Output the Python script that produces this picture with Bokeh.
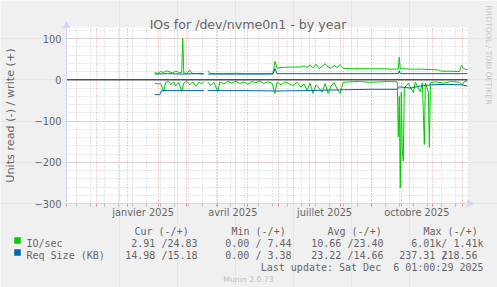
import math
import numpy as np
import pandas as pd
from bokeh.plotting import figure
from bokeh.models import (Range1d, FixedTicker, Grid, Label, Arrow, NormalHead,
                          DatetimeAxis, LinearAxis)
from bokeh.embed import file_html
from bokeh.resources import INLINE

# ---------------- data ----------------
io_w_dates = ["2025-01-28", "2025-01-31", "2025-02-03", "2025-02-06", "2025-02-09", "2025-02-12",
              "2025-02-15", "2025-02-18", "2025-02-21", "2025-02-24", "2025-02-25", "2025-02-26",
              "2025-03-01", "2025-03-04", "2025-03-06", "2025-03-10", "2025-03-15", "2025-03-18",
              "2025-03-19", "2025-03-22", "2025-03-24", "2025-03-30", "2025-04-09", "2025-04-19",
              "2025-04-29", "2025-05-09", "2025-05-19", "2025-05-26", "2025-05-28", "2025-05-30",
              "2025-06-03", "2025-06-13", "2025-06-23", "2025-06-26", "2025-06-29", "2025-07-02",
              "2025-07-05", "2025-07-08", "2025-07-11", "2025-07-14", "2025-07-17", "2025-07-20",
              "2025-07-23", "2025-07-26", "2025-07-29", "2025-08-01", "2025-08-04", "2025-08-12",
              "2025-08-22", "2025-09-01", "2025-09-11", "2025-09-21", "2025-09-28", "2025-09-29",
              "2025-09-30", "2025-10-11", "2025-10-21", "2025-10-31", "2025-11-07", "2025-11-10",
              "2025-11-20", "2025-11-28", "2025-11-30", "2025-12-02", "2025-12-05", "2025-12-06"]
io_w_vals = [17, 16, 20, 18, 22, 19,
             17, 21, 18, 17, 100, 17,
             15, 24, 16, 15, 16, 15,
             float("nan"), 22, 16, 15, 15, 16,
             15, 15, 15, 16, 45, 28,
             30, 31, 31, 34, 30, 36,
             29, 38, 27, 33, 39, 31,
             28, 35, 30, 37, 28, 27,
             27, 27, 27, 26, 26, 55,
             27, 26, 26, 25, 24, 21,
             21, 20, 35, 27, 25, 24.83]

req_w_dates = ["2025-01-28", "2025-02-10", "2025-02-24", "2025-03-10", "2025-03-18", "2025-03-19",
               "2025-03-22", "2025-04-15", "2025-05-10", "2025-05-26", "2025-05-28", "2025-05-30",
               "2025-06-30", "2025-07-31", "2025-08-31", "2025-09-28", "2025-09-29", "2025-09-30",
               "2025-10-31", "2025-11-30", "2025-12-06"]
req_w_vals = [14, 15, 14, 15, 14, float("nan"),
              14, 14, 14, 14, 27, 15,
              15, 15, 15, 15, 22, 15,
              15, 15, 15.18]

io_r_dates = ["2025-01-28", "2025-01-31", "2025-02-03", "2025-02-06", "2025-02-08", "2025-02-11",
              "2025-02-13", "2025-02-16", "2025-02-18", "2025-02-21", "2025-02-24", "2025-02-26",
              "2025-03-01", "2025-03-04", "2025-03-07", "2025-03-10", "2025-03-13", "2025-03-16",
              "2025-03-18", "2025-03-19", "2025-03-22", "2025-03-25", "2025-03-28", "2025-04-01",
              "2025-04-03", "2025-04-07", "2025-04-11", "2025-04-15", "2025-04-19", "2025-04-23",
              "2025-04-27", "2025-05-01", "2025-05-05", "2025-05-09", "2025-05-13", "2025-05-17",
              "2025-05-21", "2025-05-25", "2025-05-28", "2025-05-30", "2025-06-03", "2025-06-07",
              "2025-06-11", "2025-06-15", "2025-06-19", "2025-06-23", "2025-06-26", "2025-06-29",
              "2025-07-02", "2025-07-05", "2025-07-08", "2025-07-11", "2025-07-14", "2025-07-17",
              "2025-07-20", "2025-07-23", "2025-07-26", "2025-07-29", "2025-08-01", "2025-08-04",
              "2025-08-10", "2025-08-20", "2025-08-30", "2025-09-09", "2025-09-19", "2025-09-27",
              "2025-09-28", "2025-09-29", "2025-09-30", "2025-10-01", "2025-10-02", "2025-10-03",
              "2025-10-04", "2025-10-08", "2025-10-13", "2025-10-15", "2025-10-20", "2025-10-22",
              "2025-10-24", "2025-10-25", "2025-10-28", "2025-10-29", "2025-10-30", "2025-11-05",
              "2025-11-12", "2025-11-20", "2025-11-28", "2025-12-01", "2025-12-03", "2025-12-06"]
io_r_vals = [8, 10, 9, 28, 6, 4,
             12, 5, 15, 6, 28, 8,
             3, 12, 5, 16, 6, 10,
             4, float("nan"), 5, 14, 6, 28,
             5, 10, 4, 8, 3, 9,
             5, 11, 4, 7, 3, 9,
             5, 8, 33, 6, 12, 5,
             9, 14, 6, 18, 10, 25,
             8, 33, 12, 20, 30, 9,
             33, 15, 7, 22, 33, 6,
             5, 4, 6, 5, 4, 5,
             138, 40, 262, 30, 170, 197,
             20, 8, 31, 6, 29, 7,
             157, 8, 30, 164, 6, 5,
             8, 4, 6, 12, 4, 2.91]

req_r_dates = ["2025-01-28", "2025-02-02", "2025-02-04", "2025-02-10", "2025-03-01", "2025-03-18",
               "2025-03-19", "2025-03-22", "2025-04-30", "2025-05-28", "2025-06-30", "2025-08-04",
               "2025-08-31", "2025-09-27", "2025-09-29", "2025-10-10", "2025-10-20", "2025-10-31",
               "2025-11-15", "2025-11-30", "2025-12-06"]
req_r_vals = [36, 36, 26, 26, 26, 26,
              float("nan"), 26, 26, 27, 26, 24,
              23, 23, 17, 20, 15, 12,
              11, 12, 14.98]

y_major = [100, 0, -100, -200, -300]
x_label_text = ["janvier 2025", "avril 2025", "juillet 2025", "octobre 2025"]
x_label_dates = ["2025-01-16 12:00", "2025-04-16", "2025-07-16 12:00", "2025-10-16 12:00"]

legend_header = ["Cur (-/+)", "Min (-/+)", "Avg (-/+)", "Max (-/+)"]
series_names = ["IO/sec", "Req Size (KB)"]
io_stats = ["2.91 /24.83", "0.00 / 7.44", "10.66 /23.40", "6.01k/ 1.41k"]
req_stats = ["14.98 /15.18", "0.00 / 3.38", "23.22 /14.66", "237.31 218.56"]
last_update = "Last update: Sat Dec \u00a06 01:00:29 2025"

GREEN = "#00cc00"
BLUE = "#0066b3"
FONT = "DejaVu Sans"
MONO = "DejaVu Sans Mono"
TXT = "#666666"
AX = "#cfd6f8"


def ms(s):
    return pd.Timestamp(s).value / 1e6


x0 = ms("2024-11-01 01:00")
x1 = ms("2025-12-06 01:00")
y0, y1 = -300, 127

W, H = 497, 287
FL, FR, FT, FB = 66, 467, 27, 203


def px2x(px):
    return x0 + (px - FL) / (FR - FL) * (x1 - x0)


def py2y(py):
    return y1 - (py - FT) / (FB - FT) * (y1 - y0)


p = figure(width=W, height=H, output_backend="svg", toolbar_location=None,
           x_axis_location=None, y_axis_location=None,
           x_range=Range1d(px2x(0), px2x(W)), y_range=Range1d(py2y(H), py2y(0)),
           min_border=0, background_fill_color="#f0f0f0", border_fill_color="#f0f0f0",
           outline_line_color=None)

# plot area canvas
p.quad(left=[x0], right=[x1], bottom=[y0], top=[y1], fill_color="white", line_color=None,
       level="image")

# grid lines (bounded to the plot area)
month_ticks = [ms(d) for d in pd.date_range("2024-11-01", "2025-12-01", freq="MS")]
minor_x = [ms(d) for d in pd.date_range("2024-11-11", "2025-12-06", freq="14D")]
minor_y = [v for v in range(-280, 127, 20) if v % 100 != 0]
GREY_GRID = "#cccccc"
RED_GRID = "#eda0a0"


def add_grid(dim, ticks, color):
    try:
        g = Grid(dimension=dim, ticker=FixedTicker(ticks=ticks), grid_line_color=color,
                 grid_line_dash="1 2",
                 bounds=(x0, x1) if dim == 0 else (y0, y1),
                 cross_bounds=(y0, y1) if dim == 0 else (x0, x1))
        p.add_layout(g)
    except Exception:
        if dim == 0:
            p.segment(x0=ticks, y0=[y0] * len(ticks), x1=ticks, y1=[y1] * len(ticks),
                      line_color=color, line_dash="1 2", level="underlay")
        else:
            p.segment(x0=[x0] * len(ticks), y0=ticks, x1=[x1] * len(ticks), y1=ticks,
                      line_color=color, line_dash="1 2", level="underlay")


add_grid(0, minor_x, GREY_GRID)
add_grid(1, minor_y, GREY_GRID)
add_grid(0, month_ticks, RED_GRID)
add_grid(1, [100, -100, -200], RED_GRID)

# axes (fixed at the plot-area edges)
xt = [ms(d) for d in x_label_dates]
xaxis = DatetimeAxis(fixed_location=y0, ticker=FixedTicker(ticks=xt))
xaxis.major_label_overrides = {t: s for t, s in zip(xt, x_label_text)}
xaxis.axis_line_color = None
xaxis.major_tick_line_color = None
xaxis.major_tick_out = 0
xaxis.major_tick_in = 0
xaxis.minor_tick_line_color = None
xaxis.major_label_standoff = 3
xaxis.major_label_text_font = FONT
xaxis.major_label_text_font_size = "9.8px"
xaxis.major_label_text_color = TXT
p.add_layout(xaxis, "below")

# small tick marks along the bottom axis
for ticks, color in ((minor_x, "#bbbbbb"), (month_ticks, "#e88888")):
    ta = DatetimeAxis(fixed_location=y0, ticker=FixedTicker(ticks=ticks), bounds=(x0, x1))
    ta.axis_line_color = None
    ta.major_tick_line_color = color
    ta.major_tick_out = 3
    ta.major_tick_in = 0
    ta.minor_tick_line_color = None
    ta.major_label_text_font_size = "0px"
    ta.major_label_text_color = None
    p.add_layout(ta, "below")

yaxis = LinearAxis(fixed_location=x0, ticker=FixedTicker(ticks=y_major), bounds=(y0, y1),
                   axis_label="Units read (-) / write (+)")
yaxis.axis_line_color = None
yaxis.major_tick_line_color = None
yaxis.major_tick_out = 0
yaxis.major_tick_in = 0
yaxis.minor_tick_line_color = None
yaxis.major_label_standoff = 5
yaxis.major_label_text_font = FONT
yaxis.major_label_text_font_size = "9.8px"
yaxis.major_label_text_color = TXT
yaxis.axis_label_text_font = FONT
yaxis.axis_label_text_font_size = "11.2px"
yaxis.axis_label_text_font_style = "normal"
yaxis.axis_label_text_color = TXT
yaxis.axis_label_standoff = 15
p.add_layout(yaxis, "left")

# data
def dts(lst):
    return [pd.Timestamp(d) for d in lst]

p.line(dts(io_r_dates), [-v for v in io_r_vals], line_color=GREEN, line_width=1)
p.line(dts(io_w_dates), io_w_vals, line_color=GREEN, line_width=1)
p.line(dts(req_r_dates), [-v for v in req_r_vals], line_color=BLUE, line_width=1)
p.line(dts(req_w_dates), req_w_vals, line_color=BLUE, line_width=1)

# zero rule
p.line([x0, x1], [0, 0], line_color="black", line_width=1)

# axis arrows
p.add_layout(Arrow(x_start=x0, y_start=y0, x_end=x0, y_end=py2y(21), line_color=AX, line_width=1,
                   end=NormalHead(size=6, fill_color=AX, line_color=AX)))
p.add_layout(Arrow(x_start=x0, y_start=y0, x_end=px2x(473), y_end=y0, line_color=AX, line_width=1,
                   end=NormalHead(size=6, fill_color=AX, line_color=AX)))


def lab(px, py, text, size, font=FONT, color=TXT, align="left", baseline="alphabetic", angle=0):
    p.add_layout(Label(x=px2x(px), y=py2y(py), text=text, text_font=font, text_font_size=size,
                       text_color=color, text_align=align, text_baseline=baseline, angle=angle))


lab(247.5, 24, "IOs for /dev/nvme0n1 - by year", "12.6px", align="center")
lab(488, 5, "RRDTOOL / TOBI OETIKER", "7.7px", color="#c8c8c8", angle=-math.pi / 2,
    baseline="middle")

# legend
for x, t in zip([134, 231, 327, 423], legend_header):
    lab(x, 231, t, "10px", font=MONO)
p.scatter([px2x(17)], [py2y(240)], marker="square", size=6.5, fill_color=GREEN, line_color=None)
p.scatter([px2x(17)], [py2y(252)], marker="square", size=6.5, fill_color=BLUE, line_color=None)
lab(26, 243, series_names[0], "10px", font=MONO)
lab(26, 255, series_names[1], "10px", font=MONO)
for x, t in zip([197, 291, 383, 483], io_stats):
    lab(x, 243, t, "10px", font=MONO, align="right")
for x, t in zip([197, 291, 383, 477], req_stats):
    lab(x, 255, t, "10px", font=MONO, align="right")
lab(441, 255, "/", "10px", font=MONO)
lab(483, 266.7, last_update, "10px", font=MONO, align="right")
lab(248, 279, "Munin 2.0.73", "7.7px", color="#c0c0c0", align="center")

open("out.html", "w").write(file_html(p, INLINE))
